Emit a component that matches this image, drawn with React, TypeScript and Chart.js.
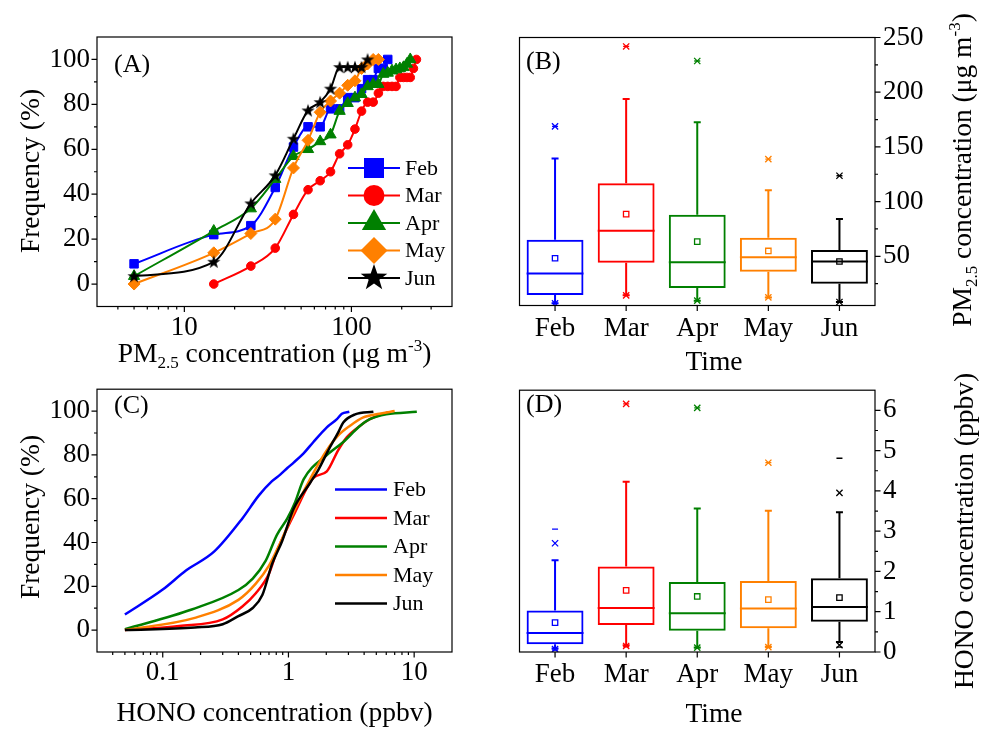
import React, { useEffect, useRef } from 'react';
import { Chart, registerables } from 'chart.js';

Chart.register(...registerables);

const FONT = "'Liberation Serif', 'Times New Roman', Times, serif";
Chart.defaults.font.family = FONT;
Chart.defaults.color = '#000';

const MONTHS = ['Feb', 'Mar', 'Apr', 'May', 'Jun'];
const COLORS = ['#0000FF', '#FF0000', '#008000', '#FF8000', '#000000'];

// ---------- Panel A: cumulative frequency of PM2.5 ----------
const pmFebX = [5, 15, 25, 35, 45, 55, 65, 75, 85, 95, 105, 115, 125, 135, 145, 155, 165];
const pmFebY = [9, 22, 26, 43, 61, 70, 70, 78, 78, 83, 83, 87, 91, 91, 96, 96, 100];
const pmMarX = [15, 25, 35, 45, 55, 65, 75, 85, 95, 105, 115, 125, 135, 145, 155, 165, 175, 185, 195, 205, 215, 225, 235, 245];
const pmMarY = [0, 8, 16, 31, 42, 46, 50, 58, 62, 69, 77, 81, 81, 85, 88, 88, 88, 88, 92, 92, 92, 92, 96, 100];
const pmAprX = [5, 15, 25, 35, 45, 55, 65, 75, 85, 95, 105, 115, 125, 135, 145, 155, 165, 175, 185, 195, 205, 215, 225];
const pmAprY = [3.5, 23.6, 33.6, 46.7, 56.9, 60, 63.5, 66.5, 77, 80.5, 83, 84.5, 88, 89, 89, 93.5, 94, 95, 95.5, 96, 96.5, 98, 100];
const pmMayX = [5, 15, 25, 35, 45, 55, 65, 75, 85, 95, 105, 115, 125, 135, 145];
const pmMayY = [0, 13.9, 22.5, 28.9, 51.7, 64, 76.5, 81.5, 85, 88.5, 90.5, 96, 98, 100, 100];
const pmJunX = [5, 15, 25, 35, 45, 55, 65, 75, 85, 95, 105, 115, 125];
const pmJunY = [3.5, 9.9, 35.9, 48.4, 64.7, 77.3, 81, 87, 96.6, 96.6, 96.6, 96.6, 100];

const pmXMajor = [10, 100];
const pmXMinor = [4, 5, 6, 7, 8, 9, 20, 30, 40, 50, 60, 70, 80, 90, 200, 300];
const freqMajor = [0, 20, 40, 60, 80, 100];
const freqMinorA = [10, 30, 50, 70, 90];

// ---------- Panel B: PM2.5 box plot ----------
const pmQ1 = [14.5, 44, 20.9, 35.8, 24.9];
const pmMed = [34.3, 73.4, 44.5, 49.1, 45.2];
const pmQ3 = [65.2, 116.7, 88, 67, 55.8];
const pmLo = [7, 14.3, 9.4, 12.4, 8.2];
const pmHi = [139.4, 193.7, 172.5, 110.3, 84];
const pmMean = [48.2, 88.5, 63.4, 54.9, 45.2];
const pmP99 = [168.8, 241.8, 228.5, 138.8, 123.6];
const pmMax = [168.8, 241.8, 228.5, 138.8, 123.6];
const pmP1 = [7, 14.3, 9.4, 12.4, 8.2];
const pmMin = [7, 14.3, 9.4, 12.4, 8.2];
const pmYMajor = [50, 100, 150, 200, 250];
const pmYMinor = [25, 75, 125, 175, 225];

// ---------- Panel C: cumulative frequency of HONO ----------
const hFebX = [0.05, 0.1, 0.153, 0.256, 0.43, 0.58, 0.74, 0.86, 0.98, 1.1, 1.32, 1.58, 2.02, 2.43, 2.66, 3.05];
const hFebY = [7.1, 18.5, 27.2, 35.8, 51, 61.4, 68, 71, 74, 76.5, 80.7, 85.9, 92.6, 96.3, 98.8, 99.7];
const hMarX = [0.05, 0.135, 0.3, 0.43, 0.55, 0.7, 0.81, 0.95, 1.13, 1.58, 2.02, 2.49, 2.92, 3.72, 4.44, 6.2];
const hMarY = [0, 1.9, 4.9, 10.8, 16.8, 25.7, 36.1, 45, 53.9, 69.5, 72.5, 82.2, 88.1, 93.3, 96.3, 99.5];
const hAprX = [0.05, 0.17, 0.4, 0.52, 0.66, 0.81, 0.98, 1.13, 1.32, 2.02, 2.73, 3.72, 4.44, 6.0, 10.5];
const hAprY = [0.4, 9.4, 18.3, 23.5, 31.7, 43.5, 51, 58.4, 68.8, 79.9, 85.9, 93.3, 96.3, 98.5, 99.7];
const hMayX = [0.05, 0.18, 0.4, 0.55, 0.7, 0.86, 1.13, 1.58, 2.02, 2.49, 3.09, 3.9, 5.3, 7.0];
const hMayY = [0, 5.6, 13.8, 21.2, 29.4, 39.8, 55.4, 71.8, 82.2, 88.9, 93.3, 97, 98.8, 100];
const hJunX = [0.05, 0.18, 0.3, 0.4, 0.52, 0.62, 0.74, 0.89, 1.1, 1.49, 1.73, 2.08, 2.49, 2.73, 3.39, 4.74];
const hJunY = [0, 1.2, 2.7, 6.4, 10.1, 16, 30.1, 40.6, 55.4, 67.3, 73.2, 82.2, 90.3, 94.8, 98.5, 99.7];

const hXMajor = [0.1, 1, 10];
const hXMinor = [0.04, 0.05, 0.06, 0.07, 0.08, 0.09, 0.2, 0.3, 0.4, 0.5, 0.6, 0.7, 0.8, 0.9, 2, 3, 4, 5, 6, 7, 8, 9];
const freqMinorC = [10, 30, 50, 70, 90];

// ---------- Panel D: HONO box plot ----------
const hQ1 = [0.19, 0.67, 0.53, 0.59, 0.75];
const hMed = [0.47, 1.09, 0.96, 1.08, 1.12];
const hQ3 = [1.03, 2.12, 1.74, 1.76, 1.83];
const hLo = [0.09, 0.17, 0.11, 0.13, 0.25];
const hHi = [2.28, 4.23, 3.56, 3.51, 3.47];
const hMean = [0.73, 1.53, 1.38, 1.3, 1.35];
const hP99 = [2.7, 6.16, 6.06, 4.7, 3.95];
const hMax = [3.05, 6.16, 6.06, 4.7, 4.81];
const hP1 = [0.07, 0.15, 0.11, 0.12, 0.17];
const hMin = [0.05, 0.13, 0.1, 0.11, 0.12];
const hYMajor = [0, 1, 2, 3, 4, 5, 6];
const hYMinor = [0.5, 1.5, 2.5, 3.5, 4.5, 5.5];

// ---------- layout ----------
type Rect = { left: number; top: number; w: number; h: number };
type Area = { l: number; t: number; r: number; b: number };
const BOX_A: Rect = { left: 0, top: 0, w: 494, h: 366 };
const AREA_A: Area = { l: 97, t: 37, r: 452, b: 306.5 };
const BOX_B: Rect = { left: 494, top: 0, w: 495, h: 366 };
const AREA_B: Area = { l: 519.5, t: 37.5, r: 875, b: 305.5 };
const BOX_C: Rect = { left: 0, top: 366, w: 494, h: 367 };
const AREA_C: Area = { l: 97, t: 383, r: 452, b: 652 };
const BOX_D: Rect = { left: 494, top: 366, w: 495, h: 367 };
const AREA_D: Area = { l: 519.5, t: 383.5, r: 875, b: 652 };

const TICK_FONT = { family: FONT, size: 27 };

function starPath(g: CanvasRenderingContext2D, cx: number, cy: number, R: number) {
  const r = R * 0.4;
  g.beginPath();
  for (let i = 0; i < 10; i++) {
    const ang = -Math.PI / 2 + (i * Math.PI) / 5;
    const rad = i % 2 === 0 ? R : r;
    const px = cx + rad * Math.cos(ang);
    const py = cy + rad * Math.sin(ang);
    if (i === 0) g.moveTo(px, py);
    else g.lineTo(px, py);
  }
  g.closePath();
}

function starImage(R: number, color: string) {
  const size = Math.ceil(R * 2 + 2);
  const c = document.createElement('canvas');
  c.width = size;
  c.height = size;
  const g = c.getContext('2d')!;
  g.fillStyle = color;
  starPath(g, size / 2, size / 2 + 0.5, R);
  g.fill();
  return c;
}

function markerPath(g: CanvasRenderingContext2D, style: string, x: number, y: number, r: number) {
  g.beginPath();
  if (style === 'rect') g.rect(x - r, y - r, 2 * r, 2 * r);
  else if (style === 'circle') g.arc(x, y, r, 0, Math.PI * 2);
  else if (style === 'triangle') {
    g.moveTo(x, y - r);
    g.lineTo(x + r * 0.866, y + r * 0.5);
    g.lineTo(x - r * 0.866, y + r * 0.5);
    g.closePath();
  } else if (style === 'rectRot') {
    g.moveTo(x, y - r);
    g.lineTo(x + r, y);
    g.lineTo(x, y + r);
    g.lineTo(x - r, y);
    g.closePath();
  } else if (style === 'star') starPath(g, x, y, r);
}

type AxisSpec = { xMajor: number[]; xMinor: number[]; yMajor: number[]; yMinor: number[]; ySide: 'left' | 'right' };

function axesPlugin(spec: AxisSpec) {
  return {
    id: 'axesFrame',
    afterDatasetsDraw(chart: any) {
      const { ctx, chartArea: a, scales } = chart;
      const xs = scales.x;
      const ys = scales.y;
      ctx.save();
      ctx.strokeStyle = '#000';
      ctx.lineWidth = 1.2;
      ctx.strokeRect(a.left, a.top, a.right - a.left, a.bottom - a.top);
      ctx.beginPath();
      const MAJ = 5.5;
      const MIN = 3;
      const xt = (vals: number[], len: number) => {
        for (const v of vals) {
          const px = xs.getPixelForValue(v);
          ctx.moveTo(px, a.bottom);
          ctx.lineTo(px, a.bottom + len);
        }
      };
      const yt = (vals: number[], len: number) => {
        for (const v of vals) {
          const py = ys.getPixelForValue(v);
          if (spec.ySide === 'left') {
            ctx.moveTo(a.left, py);
            ctx.lineTo(a.left - len, py);
          } else {
            ctx.moveTo(a.right, py);
            ctx.lineTo(a.right + len, py);
          }
        }
      };
      xt(spec.xMajor, MAJ);
      xt(spec.xMinor, MIN);
      yt(spec.yMajor, MAJ);
      yt(spec.yMinor, MIN);
      ctx.stroke();
      ctx.restore();
    },
  };
}

type LegendItem = { label: string; color: string; style?: string; size?: number };
type LegendCfg = { x1: number; x2: number; tx: number; rows: number[]; lineWidth: number; fontSize: number };

function legendPlugin(items: LegendItem[], cfg: LegendCfg) {
  return {
    id: 'customLegend',
    afterDraw(chart: any) {
      const g: CanvasRenderingContext2D = chart.ctx;
      g.save();
      items.forEach((it, i) => {
        const y = cfg.rows[i];
        g.strokeStyle = it.color;
        g.lineWidth = cfg.lineWidth;
        g.beginPath();
        g.moveTo(cfg.x1, y);
        g.lineTo(cfg.x2, y);
        g.stroke();
        if (it.style) {
          g.fillStyle = it.color;
          markerPath(g, it.style, (cfg.x1 + cfg.x2) / 2, y, it.size || 8);
          g.fill();
        }
        g.fillStyle = '#000';
        g.font = `${cfg.fontSize}px ${FONT}`;
        g.textBaseline = 'middle';
        g.textAlign = 'left';
        g.fillText(it.label, cfg.tx, y + 1);
      });
      g.restore();
    },
  };
}

function boxPlugin(lo: number[], hi: number[], q1: number[], q3: number[], med: number[]) {
  return {
    id: 'boxWhiskers',
    afterDatasetsDraw(chart: any) {
      const { ctx, scales } = chart;
      const xs = scales.x;
      const ys = scales.y;
      const bars = chart.getDatasetMeta(0).data;
      ctx.save();
      ctx.lineWidth = 2;
      for (let i = 0; i < MONTHS.length; i++) {
        const x = xs.getPixelForValue(i);
        const cap = 3.5;
        ctx.strokeStyle = COLORS[i];
        ctx.beginPath();
        ctx.moveTo(x, ys.getPixelForValue(q3[i]));
        ctx.lineTo(x, ys.getPixelForValue(hi[i]));
        ctx.moveTo(x - cap, ys.getPixelForValue(hi[i]));
        ctx.lineTo(x + cap, ys.getPixelForValue(hi[i]));
        ctx.moveTo(x, ys.getPixelForValue(q1[i]));
        ctx.lineTo(x, ys.getPixelForValue(lo[i]));
        ctx.moveTo(x - cap, ys.getPixelForValue(lo[i]));
        ctx.lineTo(x + cap, ys.getPixelForValue(lo[i]));
        const bw = bars[i].width;
        const my = ys.getPixelForValue(med[i]);
        ctx.moveTo(bars[i].x - bw / 2, my);
        ctx.lineTo(bars[i].x + bw / 2, my);
        ctx.stroke();
      }
      ctx.restore();
    },
  };
}

function pts(xs: number[], ys: number[]) {
  return xs.map((x, i) => ({ x, y: ys[i] }));
}

function cdfScales(box: Rect, area: Area, xMin: number, xMax: number, xMajor: number[]) {
  return {
    x: {
      type: 'logarithmic',
      min: xMin,
      max: xMax,
      grid: { display: false, drawTicks: false },
      border: { display: false },
      ticks: { font: TICK_FONT, color: '#000', padding: 5, autoSkip: false, maxRotation: 0, callback: (v: any) => String(v) },
      afterBuildTicks: (s: any) => {
        s.ticks = xMajor.map((v) => ({ value: v }));
      },
      afterFit: (s: any) => {
        s.height = box.top + box.h - area.b;
      },
    },
    y: {
      type: 'linear',
      min: -10,
      max: 110,
      grid: { display: false, drawTicks: false },
      border: { display: false },
      ticks: { font: TICK_FONT, color: '#000', padding: 7, autoSkip: false },
      afterBuildTicks: (s: any) => {
        s.ticks = freqMajor.map((v) => ({ value: v }));
      },
      afterFit: (s: any) => {
        s.width = area.l - box.left;
      },
    },
  };
}

function buildA() {
  const styles = ['rect', 'circle', 'triangle', 'rectRot', 'star'];
  const radii = [6, 4.3, 6.5, 6, 7];
  const xsArr = [pmFebX, pmMarX, pmAprX, pmMayX, pmJunX];
  const ysArr = [pmFebY, pmMarY, pmAprY, pmMayY, pmJunY];
  const datasets = MONTHS.map((m, i) => ({
    label: m,
    data: pts(xsArr[i], ysArr[i]),
    showLine: true,
    borderColor: COLORS[i],
    borderWidth: 2,
    cubicInterpolationMode: 'monotone',
    pointStyle: styles[i] === 'star' ? starImage(radii[i], COLORS[i]) : styles[i],
    pointRadius: radii[i],
    pointBackgroundColor: COLORS[i],
    pointBorderColor: COLORS[i],
    pointBorderWidth: 1,
    order: 5 - i,
  }));
  const legendItems: LegendItem[] = MONTHS.map((m, i) => ({
    label: m,
    color: COLORS[i],
    style: styles[i],
    size: [10, 10.5, 14, 13.5, 14][i],
  }));
  return {
    type: 'scatter',
    data: { datasets },
    options: {
      animation: false,
      responsive: false,
      devicePixelRatio: 1,
      layout: { padding: { left: 0, top: AREA_A.t - BOX_A.top, right: BOX_A.left + BOX_A.w - AREA_A.r, bottom: 0 } },
      plugins: { legend: { display: false }, tooltip: { enabled: false } },
      scales: cdfScales(BOX_A, AREA_A, 3, 400, pmXMajor),
    },
    plugins: [
      axesPlugin({ xMajor: pmXMajor, xMinor: pmXMinor, yMajor: freqMajor, yMinor: freqMinorA, ySide: 'left' }),
      legendPlugin(legendItems, { x1: 348, x2: 400, tx: 405, rows: [168, 195.5, 223, 250.5, 278], lineWidth: 2, fontSize: 22 }),
    ],
  };
}

function buildC() {
  const xsArr = [hFebX, hMarX, hAprX, hMayX, hJunX];
  const ysArr = [hFebY, hMarY, hAprY, hMayY, hJunY];
  const datasets = MONTHS.map((m, i) => ({
    label: m,
    data: pts(xsArr[i], ysArr[i]),
    showLine: true,
    borderColor: COLORS[i],
    borderWidth: 2.5,
    cubicInterpolationMode: 'monotone',
    pointRadius: 0,
    order: 5 - i,
  }));
  const legendItems: LegendItem[] = MONTHS.map((m, i) => ({ label: m, color: COLORS[i] }));
  const off = BOX_C.top;
  return {
    type: 'scatter',
    data: { datasets },
    options: {
      animation: false,
      responsive: false,
      devicePixelRatio: 1,
      layout: { padding: { left: 0, top: AREA_C.t - BOX_C.top, right: BOX_C.left + BOX_C.w - AREA_C.r, bottom: 0 } },
      plugins: { legend: { display: false }, tooltip: { enabled: false } },
      scales: cdfScales(BOX_C, AREA_C, 0.03, 20, hXMajor),
    },
    plugins: [
      axesPlugin({ xMajor: hXMajor, xMinor: hXMinor, yMajor: freqMajor, yMinor: freqMinorC, ySide: 'left' }),
      legendPlugin(legendItems, {
        x1: 335,
        x2: 387,
        tx: 393,
        rows: [489.5 - off, 518 - off, 546.5 - off, 575 - off, 603.5 - off],
        lineWidth: 2.5,
        fontSize: 22,
      }),
    ],
  };
}

function markerSet(data: number[], style: string, radius: number, fill: boolean) {
  return {
    type: 'line',
    data,
    showLine: false,
    pointStyle: style,
    pointRadius: radius,
    pointBorderWidth: 1.3,
    pointBorderColor: COLORS,
    pointBackgroundColor: fill ? COLORS : 'rgba(0,0,0,0)',
  };
}

function buildBox(
  box: Rect,
  area: Area,
  yMin: number,
  yMax: number,
  yMajor: number[],
  yMinor: number[],
  q1: number[],
  q3: number[],
  med: number[],
  lo: number[],
  hi: number[],
  mean: number[],
  p99: number[],
  mx: number[],
  p1: number[],
  mn: number[]
) {
  return {
    type: 'bar',
    data: {
      labels: MONTHS,
      datasets: [
        {
          type: 'bar',
          data: q1.map((v, i) => [v, q3[i]]),
          backgroundColor: 'rgba(0,0,0,0)',
          borderColor: COLORS,
          borderWidth: 2,
          borderSkipped: false,
          barPercentage: 0.8,
          categoryPercentage: 1,
        },
        markerSet(mean, 'rect', 3.8, false),
        markerSet(p99, 'crossRot', 4.4, false),
        markerSet(mx, 'line', 3, false),
        markerSet(p1, 'crossRot', 4.4, false),
        markerSet(mn, 'line', 3, false),
      ],
    },
    options: {
      animation: false,
      responsive: false,
      devicePixelRatio: 1,
      layout: { padding: { left: area.l - box.left, top: area.t - box.top, right: 0, bottom: 0 } },
      plugins: { legend: { display: false }, tooltip: { enabled: false } },
      scales: {
        x: {
          type: 'category',
          offset: true,
          grid: { display: false, drawTicks: false },
          border: { display: false },
          ticks: { font: TICK_FONT, color: '#000', padding: 7, autoSkip: false, maxRotation: 0 },
          afterFit: (s: any) => {
            s.height = box.top + box.h - area.b;
          },
        },
        y: {
          type: 'linear',
          position: 'right',
          min: yMin,
          max: yMax,
          grid: { display: false, drawTicks: false },
          border: { display: false },
          ticks: { font: TICK_FONT, color: '#000', padding: 8, autoSkip: false },
          afterBuildTicks: (s: any) => {
            s.ticks = yMajor.map((v) => ({ value: v }));
          },
          afterFit: (s: any) => {
            s.width = box.left + box.w - area.r;
          },
        },
      },
    },
    plugins: [
      boxPlugin(lo, hi, q1, q3, med),
      axesPlugin({ xMajor: [0, 1, 2, 3, 4], xMinor: [], yMajor, yMinor, ySide: 'right' }),
    ],
  };
}

function buildB() {
  return buildBox(BOX_B, AREA_B, 5, 250, pmYMajor, pmYMinor, pmQ1, pmQ3, pmMed, pmLo, pmHi, pmMean, pmP99, pmMax, pmP1, pmMin);
}
function buildD() {
  return buildBox(BOX_D, AREA_D, 0, 6.5, hYMajor, hYMinor, hQ1, hQ3, hMed, hLo, hHi, hMean, hP99, hMax, hP1, hMin);
}

function ChartBox({ box, build }: { box: Rect; build: () => any }) {
  const ref = useRef<HTMLCanvasElement>(null);
  useEffect(() => {
    const chart = new Chart(ref.current as HTMLCanvasElement, build());
    return () => chart.destroy();
  }, []);
  return (
    <canvas
      ref={ref}
      width={box.w}
      height={box.h}
      style={{ position: 'absolute', left: box.left, top: box.top, width: box.w, height: box.h }}
    />
  );
}

const sub = { fontSize: '0.62em', verticalAlign: '-0.38em' } as React.CSSProperties;
const sup = { fontSize: '0.62em', verticalAlign: '0.62em' } as React.CSSProperties;

function Label({ x, y, rotate, size = 27.5, children }: { x: number; y: number; rotate?: boolean; size?: number; children: React.ReactNode }) {
  return (
    <div
      style={{
        position: 'absolute',
        left: x,
        top: y,
        transform: `translate(-50%, -50%)${rotate ? ' rotate(-90deg)' : ''}`,
        whiteSpace: 'nowrap',
        fontFamily: FONT,
        fontSize: size,
        lineHeight: 1,
        color: '#000',
      }}
    >
      {children}
    </div>
  );
}

function PanelTag({ x, y, text }: { x: number; y: number; text: string }) {
  return (
    <div
      style={{
        position: 'absolute',
        left: x,
        top: y,
        transform: 'translateY(-50%)',
        fontFamily: FONT,
        fontSize: 26,
        lineHeight: 1,
        color: '#000',
        whiteSpace: 'nowrap',
      }}
    >
      {text}
    </div>
  );
}

export default function App() {
  const pmTitle = (
    <>
      PM<span style={sub}>2.5</span> concentration (μg m<span style={sup}>-3</span>)
    </>
  );
  return (
    <div style={{ position: 'absolute', left: 0, top: 0, width: 989, height: 733, background: '#fff', overflow: 'hidden' }}>
      <ChartBox box={BOX_A} build={buildA} />
      <ChartBox box={BOX_B} build={buildB} />
      <ChartBox box={BOX_C} build={buildC} />
      <ChartBox box={BOX_D} build={buildD} />
      <PanelTag x={114} y={64} text="(A)" />
      <PanelTag x={526} y={61} text="(B)" />
      <PanelTag x={114} y={405} text="(C)" />
      <PanelTag x={526} y={404} text="(D)" />
      <Label x={30} y={171} rotate>Frequency (%)</Label>
      <Label x={30} y={517} rotate>Frequency (%)</Label>
      <Label x={274.5} y={354}>{pmTitle}</Label>
      <Label x={274.5} y={712}>HONO concentration (ppbv)</Label>
      <Label x={714} y={361}>Time</Label>
      <Label x={714} y={713}>Time</Label>
      <Label x={963} y={170} rotate>{pmTitle}</Label>
      <Label x={964} y={531} rotate>HONO concentration (ppbv)</Label>
    </div>
  );
}
